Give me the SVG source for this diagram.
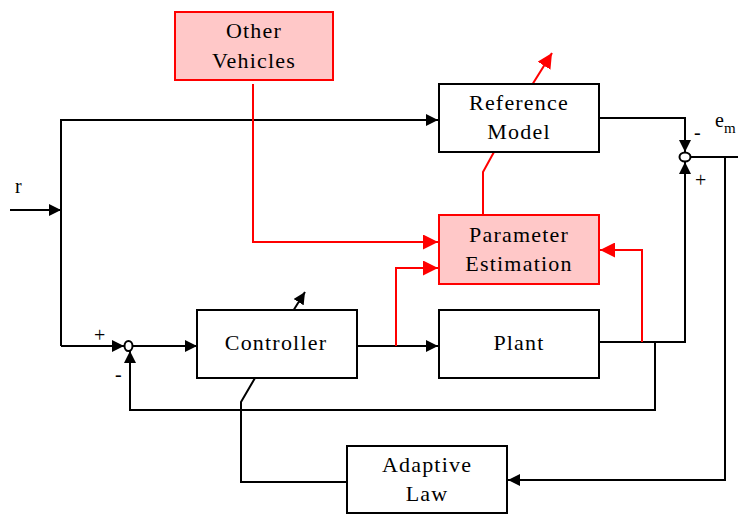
<svg xmlns="http://www.w3.org/2000/svg" width="738" height="514" viewBox="0 0 738 514">
<style>
.box{fill:#fff;stroke:#000;stroke-width:2}
.rbox{fill:#ffc8c8;stroke:#f00;stroke-width:2}
.nodetext{font-family:'Liberation Serif','Times New Roman',serif;font-size:22px;letter-spacing:1.2px;fill:#000;text-anchor:middle}
.lbl{font-family:'Liberation Serif','Times New Roman',serif;font-size:20px;fill:#000}
.k{fill:none;stroke:#000;stroke-width:2}
.r{fill:none;stroke:#f00;stroke-width:2}
</style>
<defs>
<marker id="ak" viewBox="0 0 10 10" refX="10" refY="5" markerWidth="6" markerHeight="6" markerUnits="strokeWidth" orient="auto"><path d="M0,0L10,5L0,10z" fill="#000"/></marker>
<marker id="ar" viewBox="0 0 10 10" refX="10" refY="5" markerWidth="7.5" markerHeight="7.5" markerUnits="strokeWidth" orient="auto"><path d="M0,0L10,5L0,10z" fill="#f00"/></marker>
</defs>
<g id="connectors">
<path class="k" d="M10,210H61" marker-end="url(#ak)"/>
<path class="k" d="M61,346V120H438" marker-end="url(#ak)"/>
<path class="k" d="M61,346H124" marker-end="url(#ak)"/>
<path class="k" d="M133,346H197" marker-end="url(#ak)"/>
<path class="k" d="M357,346H438" marker-end="url(#ak)"/>
<path class="k" d="M599,118H685V152" marker-end="url(#ak)"/>
<path class="k" d="M599,342H685V162" marker-end="url(#ak)"/>
<path class="k" d="M691,157H738"/>
<path class="k" d="M725,157V480H508" marker-end="url(#ak)"/>
<path class="k" d="M655,342V410H130V351" marker-end="url(#ak)"/>
<path class="k" d="M347,482H241V402L255,378"/>
<path class="k" d="M293,311L305,292" marker-end="url(#ak)"/>
<path class="r" d="M253,84V242H438" marker-end="url(#ar)"/>
<path class="r" d="M396,346V268H438" marker-end="url(#ar)"/>
<path class="r" d="M642,342V250H600" marker-end="url(#ar)"/>
<path class="r" d="M494,152L483,172V215"/>
<path class="r" d="M532,85L552,53" marker-end="url(#ar)"/>
<ellipse cx="685" cy="157" rx="5.5" ry="4.5" fill="#fff" stroke="#000" stroke-width="2"/>
<ellipse cx="128.5" cy="346" rx="4" ry="5" fill="#fff" stroke="#000" stroke-width="2"/>
</g>
<g id="other-vehicles">
<rect class="rbox" x="175" y="12" width="158" height="68"/>
<text class="nodetext" x="254" y="38">Other</text>
<text class="nodetext" x="254" y="68">Vehicles</text>
</g>
<g id="reference-model">
<rect class="box" x="439" y="84" width="160" height="68"/>
<text class="nodetext" x="519" y="110">Reference</text>
<text class="nodetext" x="519" y="139">Model</text>
</g>
<g id="parameter-estimation">
<rect class="rbox" x="439" y="215" width="160" height="69"/>
<text class="nodetext" x="519" y="242">Parameter</text>
<text class="nodetext" x="519" y="271">Estimation</text>
</g>
<g id="controller">
<rect class="box" x="197" y="310" width="160" height="68"/>
<text class="nodetext" x="276" y="350">Controller</text>
</g>
<g id="plant">
<rect class="box" x="439" y="310" width="160" height="68"/>
<text class="nodetext" x="519" y="350">Plant</text>
</g>
<g id="adaptive-law">
<rect class="box" x="347" y="446" width="160" height="67"/>
<text class="nodetext" x="427" y="472">Adaptive</text>
<text class="nodetext" x="427" y="501">Law</text>
</g>
<g id="labels">
<text class="lbl" x="15" y="193">r</text>
<text class="lbl" x="94" y="342">+</text>
<text class="lbl" x="115" y="381">-</text>
<text class="lbl" x="694" y="139">-</text>
<text class="lbl" x="695" y="187">+</text>
<text class="lbl" x="715" y="127">e<tspan font-size="15" dy="6">m</tspan></text>
</g>
</svg>
